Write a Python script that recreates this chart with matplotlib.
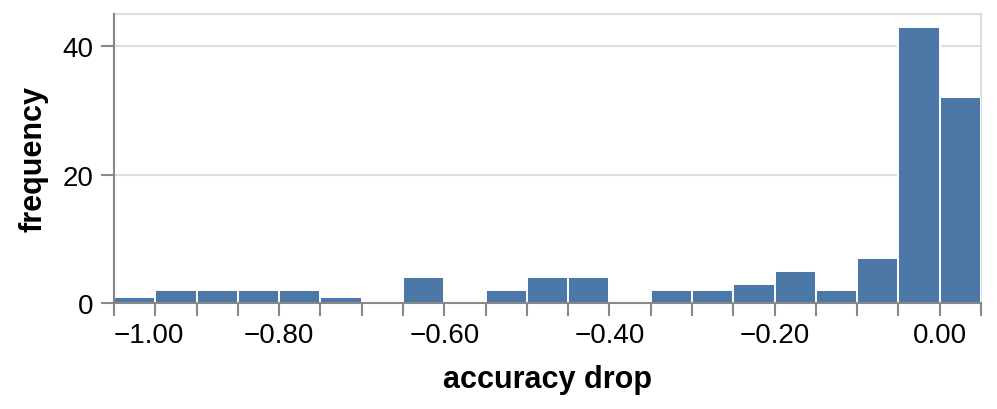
import numpy as np
import matplotlib.pyplot as plt

plt.rcParams['font.family'] = ['Liberation Sans', 'DejaVu Sans']

# histogram of accuracy drop, bins of width 0.05 starting at -1.00
bin_starts = [-1.00, -0.95, -0.90, -0.85, -0.80, -0.75, -0.70, -0.65, -0.60, -0.55, -0.50,
              -0.45, -0.40, -0.35, -0.30, -0.25, -0.20, -0.15, -0.10, -0.05, 0.00]
counts = [1, 2, 2, 2, 2, 1, 0, 4, 0, 2, 4, 4, 0, 2, 2, 3, 5, 2, 7, 43, 32]
bin_width = 0.05
x_ticks = [-1.00, -0.80, -0.60, -0.40, -0.20, 0.00]
x_labels = ['\u22121.00', '\u22120.80', '\u22120.60', '\u22120.40', '\u22120.20', '0.00']
y_ticks = [0, 20, 40]

fig = plt.figure(figsize=(9.97, 4.10), dpi=100)
ax = fig.add_axes([114 / 997, (410 - 304) / 410, (981 - 114) / 997, (304 - 15) / 410])

ax.bar(bin_starts, counts, width=bin_width, align='edge', color='#4c78a8',
       edgecolor='white', linewidth=1.4, zorder=3)

ax.set_xlim(bin_starts[0], bin_starts[-1] + bin_width)
ax.set_ylim(0, 45)

edges = np.round(np.arange(bin_starts[0], bin_starts[-1] + bin_width + 0.001, bin_width), 2)
ax.set_xticks(edges, minor=True)
ax.set_xticks(x_ticks)
ax.set_xticklabels(x_labels)
ax.get_xticklabels()[0].set_horizontalalignment('left')
ax.set_yticks(y_ticks)

ax.tick_params(axis='both', which='both', direction='out', length=9.5, width=1.5,
               color='#888888', labelsize=20)
ax.tick_params(axis='x', which='both', pad=4)
ax.tick_params(axis='y', pad=5)

ax.grid(axis='y', color='#dddddd', linewidth=1.5, zorder=0)
for side in ['top', 'right']:
    ax.spines[side].set_color('#dddddd')
    ax.spines[side].set_linewidth(1.5)
for side in ['bottom', 'left']:
    ax.spines[side].set_color('#888888')
    ax.spines[side].set_linewidth(1.5)
    ax.spines[side].set_zorder(4)

ax.set_xlabel('accuracy drop', fontsize=22, fontweight='bold', labelpad=12)
ax.set_ylabel('frequency', fontsize=22, fontweight='bold', labelpad=10)

fig.savefig('out.png', dpi=100)
